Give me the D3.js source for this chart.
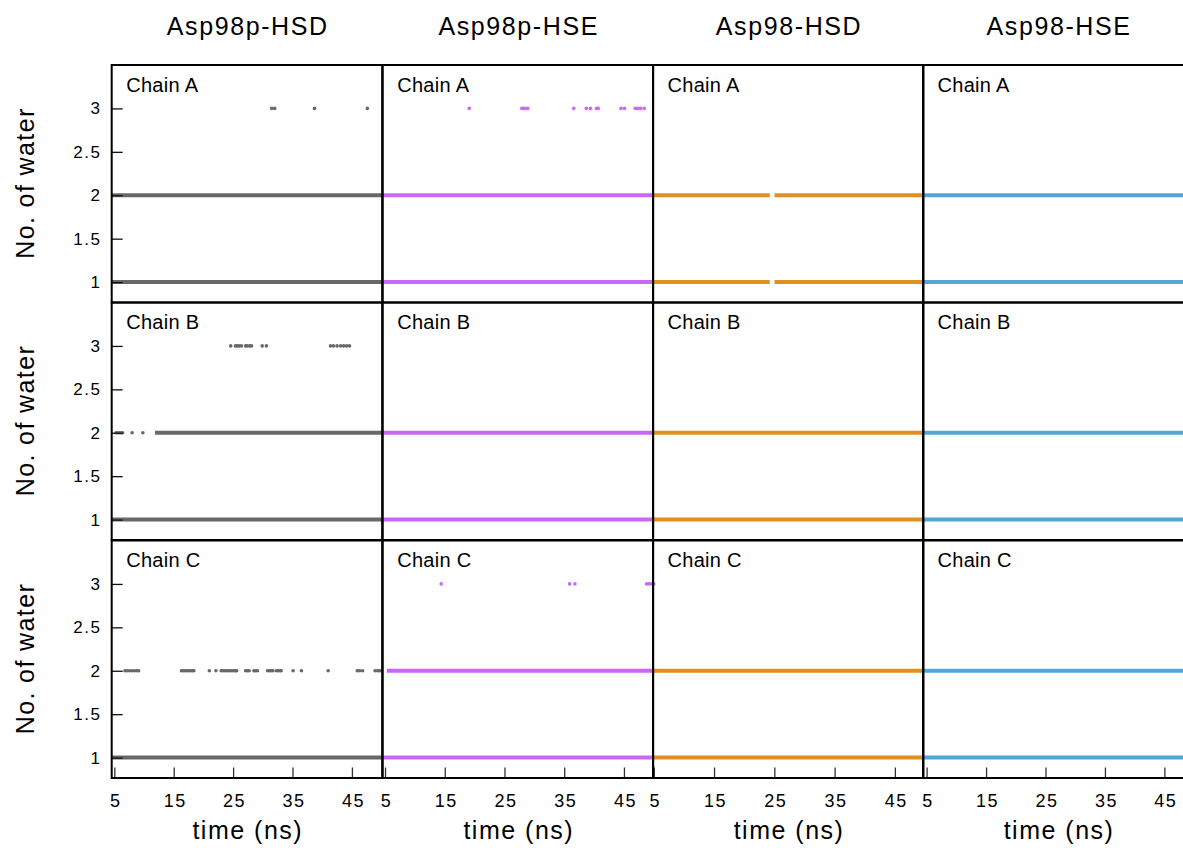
<!DOCTYPE html>
<html>
<head>
<meta charset="utf-8">
<script src="https://cdn.jsdelivr.net/npm/d3@7/dist/d3.min.js"></script>
<style>
  html, body { margin: 0; padding: 0; background: #fff; }
  svg { display: block; }
  text { font-family: "Liberation Sans", Arial, Helvetica, sans-serif; fill: #000; }
</style>
</head>
<body>
<svg id="chart" width="1183" height="848"></svg>
<script>
// Systems (columns) and chains (rows)
const systems = ["Asp98p-HSD", "Asp98p-HSE", "Asp98-HSD", "Asp98-HSE"];
const chains = ["Chain A", "Chain B", "Chain C"];

// Time window (ns) covered by each system's trajectory
const timeDomains = [[4.56, 50.1], [4.61, 49.9], [4.87, 49.75], [4.39, 49.9]];
const waterDomain = [0.765, 3.5];

const xTickValues = [5, 15, 25, 35, 45];
const yTickValues = [1, 1.5, 2, 2.5, 3];
const yTickLabels = ["1", "1.5", "2", "2.5", "3"];

// Continuous occupancy: [system, chain, waters, tStart, tEnd]
const runs = [
  [0, 0, 1, 4.4, 50.2], [0, 0, 2, 4.4, 50.2],
  [1, 0, 1, 4.4, 50.2], [1, 0, 2, 4.4, 50.2],
  [2, 0, 1, 4.4, 24.25], [2, 0, 1, 25.03, 50.2],
  [2, 0, 2, 4.4, 24.25], [2, 0, 2, 25.03, 50.2],
  [3, 0, 1, 4.4, 50.2], [3, 0, 2, 4.4, 50.2],
  [0, 1, 1, 4.4, 50.2], [0, 1, 2, 11.84, 50.2],
  [1, 1, 1, 4.4, 50.2], [1, 1, 2, 4.4, 50.2],
  [2, 1, 1, 4.4, 50.2], [2, 1, 2, 4.4, 50.2],
  [3, 1, 1, 4.4, 50.2], [3, 1, 2, 4.4, 50.2],
  [0, 2, 1, 4.4, 50.2],
  [1, 2, 1, 4.4, 50.2], [1, 2, 2, 5.3, 50.2],
  [2, 2, 1, 4.4, 50.2], [2, 2, 2, 4.4, 50.2],
  [3, 2, 1, 4.4, 50.2], [3, 2, 2, 4.4, 50.2]
];

// Isolated frames: [system, chain, waters, time]
const frames = [
  // Asp98p-HSD, chain A
  [0, 0, 3, 31.5], [0, 0, 3, 32.0], [0, 0, 3, 38.7], [0, 0, 3, 47.6],
  // Asp98p-HSE, chain A
  [1, 0, 3, 19.1], [1, 0, 3, 27.9], [1, 0, 3, 28.2], [1, 0, 3, 28.5], [1, 0, 3, 28.9],
  [1, 0, 3, 36.6], [1, 0, 3, 38.7], [1, 0, 3, 39.4], [1, 0, 3, 40.4], [1, 0, 3, 40.7],
  [1, 0, 3, 44.5], [1, 0, 3, 45.1], [1, 0, 3, 46.9], [1, 0, 3, 47.3], [1, 0, 3, 47.8], [1, 0, 3, 48.4],
  // Asp98p-HSD, chain B
  [0, 1, 3, 24.6], [0, 1, 3, 25.4], [0, 1, 3, 25.7], [0, 1, 3, 26.0], [0, 1, 3, 26.4],
  [0, 1, 3, 27.1], [0, 1, 3, 27.4], [0, 1, 3, 27.8], [0, 1, 3, 28.1], [0, 1, 3, 29.9], [0, 1, 3, 30.6],
  [0, 1, 3, 41.4], [0, 1, 3, 41.9], [0, 1, 3, 42.5], [0, 1, 3, 43.1], [0, 1, 3, 43.6], [0, 1, 3, 44.1], [0, 1, 3, 44.6],
  [0, 1, 2, 5.3], [0, 1, 2, 5.6], [0, 1, 2, 5.9], [0, 1, 2, 6.2], [0, 1, 2, 6.4], [0, 1, 2, 8.0], [0, 1, 2, 9.8],
  // Asp98p-HSD, chain C
  [0, 2, 2, 6.8], [0, 2, 2, 7.2], [0, 2, 2, 7.6], [0, 2, 2, 8.0], [0, 2, 2, 8.4], [0, 2, 2, 8.8], [0, 2, 2, 9.1],
  [0, 2, 2, 16.3], [0, 2, 2, 16.6], [0, 2, 2, 16.9], [0, 2, 2, 17.2], [0, 2, 2, 17.5], [0, 2, 2, 17.8], [0, 2, 2, 18.1], [0, 2, 2, 18.4],
  [0, 2, 2, 21.0], [0, 2, 2, 22.1],
  [0, 2, 2, 23.0], [0, 2, 2, 23.3], [0, 2, 2, 23.6], [0, 2, 2, 23.9], [0, 2, 2, 24.2], [0, 2, 2, 24.5],
  [0, 2, 2, 24.8], [0, 2, 2, 25.1], [0, 2, 2, 25.4], [0, 2, 2, 25.6],
  [0, 2, 2, 27.1], [0, 2, 2, 27.4], [0, 2, 2, 27.7], [0, 2, 2, 28.5], [0, 2, 2, 28.8], [0, 2, 2, 29.1],
  [0, 2, 2, 30.8], [0, 2, 2, 31.1], [0, 2, 2, 31.4], [0, 2, 2, 31.7], [0, 2, 2, 32.3], [0, 2, 2, 32.6], [0, 2, 2, 32.9], [0, 2, 2, 33.1],
  [0, 2, 2, 35.1], [0, 2, 2, 36.5], [0, 2, 2, 41.0],
  [0, 2, 2, 45.9], [0, 2, 2, 46.3], [0, 2, 2, 46.8],
  [0, 2, 2, 48.9], [0, 2, 2, 49.3], [0, 2, 2, 49.6], [0, 2, 2, 49.9],
  // Asp98p-HSE, chain C
  [1, 2, 3, 14.4], [1, 2, 3, 35.9], [1, 2, 3, 36.8],
  [1, 2, 3, 48.8], [1, 2, 3, 49.2], [1, 2, 3, 49.6], [1, 2, 3, 50.0]
];

const palette = ["#686868", "#cc66fa", "#e0901f", "#53a6d8"];

// ---- layout ----
const colLefts = [111.7, 382.7, 653, 923];
const colWidth = 270.5;
const rowTops = [65, 302.5, 540.5];
const rowHeight = 237.5;

const svg = d3.select("#chart");

const xScales = timeDomains.map((dom, i) =>
  d3.scaleLinear().domain(dom).range([colLefts[i], colLefts[i] + colWidth]));
const yScales = rowTops.map(top =>
  d3.scaleLinear().domain(waterDomain).range([top + rowHeight, top]));

const defs = svg.append("defs");
systems.forEach((s, c) => {
  chains.forEach((ch, r) => {
    defs.append("clipPath").attr("id", `clip-${c}-${r}`)
      .append("rect")
      .attr("x", colLefts[c]).attr("y", rowTops[r])
      .attr("width", colWidth).attr("height", rowHeight);
  });
});

// Occupancy bands
const dataLayer = svg.append("g");
dataLayer.selectAll("line.run")
  .data(runs)
  .join("line")
  .attr("class", "run")
  .attr("clip-path", d => `url(#clip-${d[0]}-${d[1]})`)
  .attr("x1", d => xScales[d[0]](d[3]))
  .attr("x2", d => xScales[d[0]](d[4]))
  .attr("y1", d => yScales[d[1]](d[2]))
  .attr("y2", d => yScales[d[1]](d[2]))
  .attr("stroke", d => palette[d[0]])
  .attr("stroke-width", 4);

// Isolated frames
dataLayer.selectAll("circle.frame")
  .data(frames)
  .join("circle")
  .attr("class", "frame")
  .attr("cx", d => xScales[d[0]](d[3]))
  .attr("cy", d => yScales[d[1]](d[2]))
  .attr("r", 1.8)
  .attr("fill", d => palette[d[0]]);

// Y axis ticks and labels (first column only)
chains.forEach((ch, r) => {
  const y = yScales[r];
  const axis = d3.axisLeft(y).tickValues(yTickValues).tickSize(-11).tickFormat("");
  const g = svg.append("g").attr("transform", `translate(${colLefts[0]},0)`).call(axis);
  g.select(".domain").remove();
  g.selectAll(".tick line").attr("stroke", "#111").attr("stroke-width", 1.3);

  svg.append("g").selectAll("text")
    .data(yTickValues)
    .join("text")
    .attr("x", 101.5)
    .attr("y", d => y(d) + 6)
    .attr("text-anchor", "end")
    .attr("font-size", 17)
    .attr("letter-spacing", 1.5)
    .text((d, i) => yTickLabels[i]);

  // Rotated axis title
  const cy = rowTops[r] + rowHeight / 2;
  svg.append("text")
    .attr("transform", `translate(34,${cy}) rotate(-90)`)
    .attr("text-anchor", "middle")
    .attr("font-size", 25)
    .attr("letter-spacing", 1.4)
    .attr("dx", 0.7)
    .text("No. of water");
});

// X axis ticks and labels (bottom row)
const bottom = rowTops[2] + rowHeight;
systems.forEach((s, c) => {
  const x = xScales[c];
  const axis = d3.axisBottom(x).tickValues(xTickValues).tickSize(-10.5).tickFormat("");
  const g = svg.append("g").attr("transform", `translate(0,${bottom})`).call(axis);
  g.select(".domain").remove();
  g.selectAll(".tick line").attr("stroke", "#333").attr("stroke-width", 1.3);

  svg.append("g").selectAll("text")
    .data(xTickValues)
    .join("text")
    .attr("x", d => x(d) + 1.5)
    .attr("y", 807)
    .attr("text-anchor", "middle")
    .attr("font-size", 18)
    .attr("letter-spacing", 1.5)
    .text(d => d);

  const cx = colLefts[c] + colWidth / 2;
  svg.append("text")
    .attr("x", cx + 0.8)
    .attr("y", 838.5)
    .attr("text-anchor", "middle")
    .attr("font-size", 25)
    .attr("letter-spacing", 1.5)
    .text("time (ns)");

  // Column title
  svg.append("text")
    .attr("x", cx + 0.8)
    .attr("y", 35)
    .attr("text-anchor", "middle")
    .attr("font-size", 25)
    .attr("letter-spacing", 1.6)
    .text(s);
});

// Chain labels and panel frames
systems.forEach((s, c) => {
  chains.forEach((ch, r) => {
    svg.append("text")
      .attr("x", colLefts[c] + 14.5)
      .attr("y", rowTops[r] + 26.7)
      .attr("font-size", 20)
      .attr("letter-spacing", 0.3)
      .text(ch);
    svg.append("rect")
      .attr("x", colLefts[c]).attr("y", rowTops[r])
      .attr("width", colWidth).attr("height", rowHeight)
      .attr("fill", "none")
      .attr("stroke", "#000")
      .attr("stroke-width", 2);
  });
});
</script>
</body>
</html>
